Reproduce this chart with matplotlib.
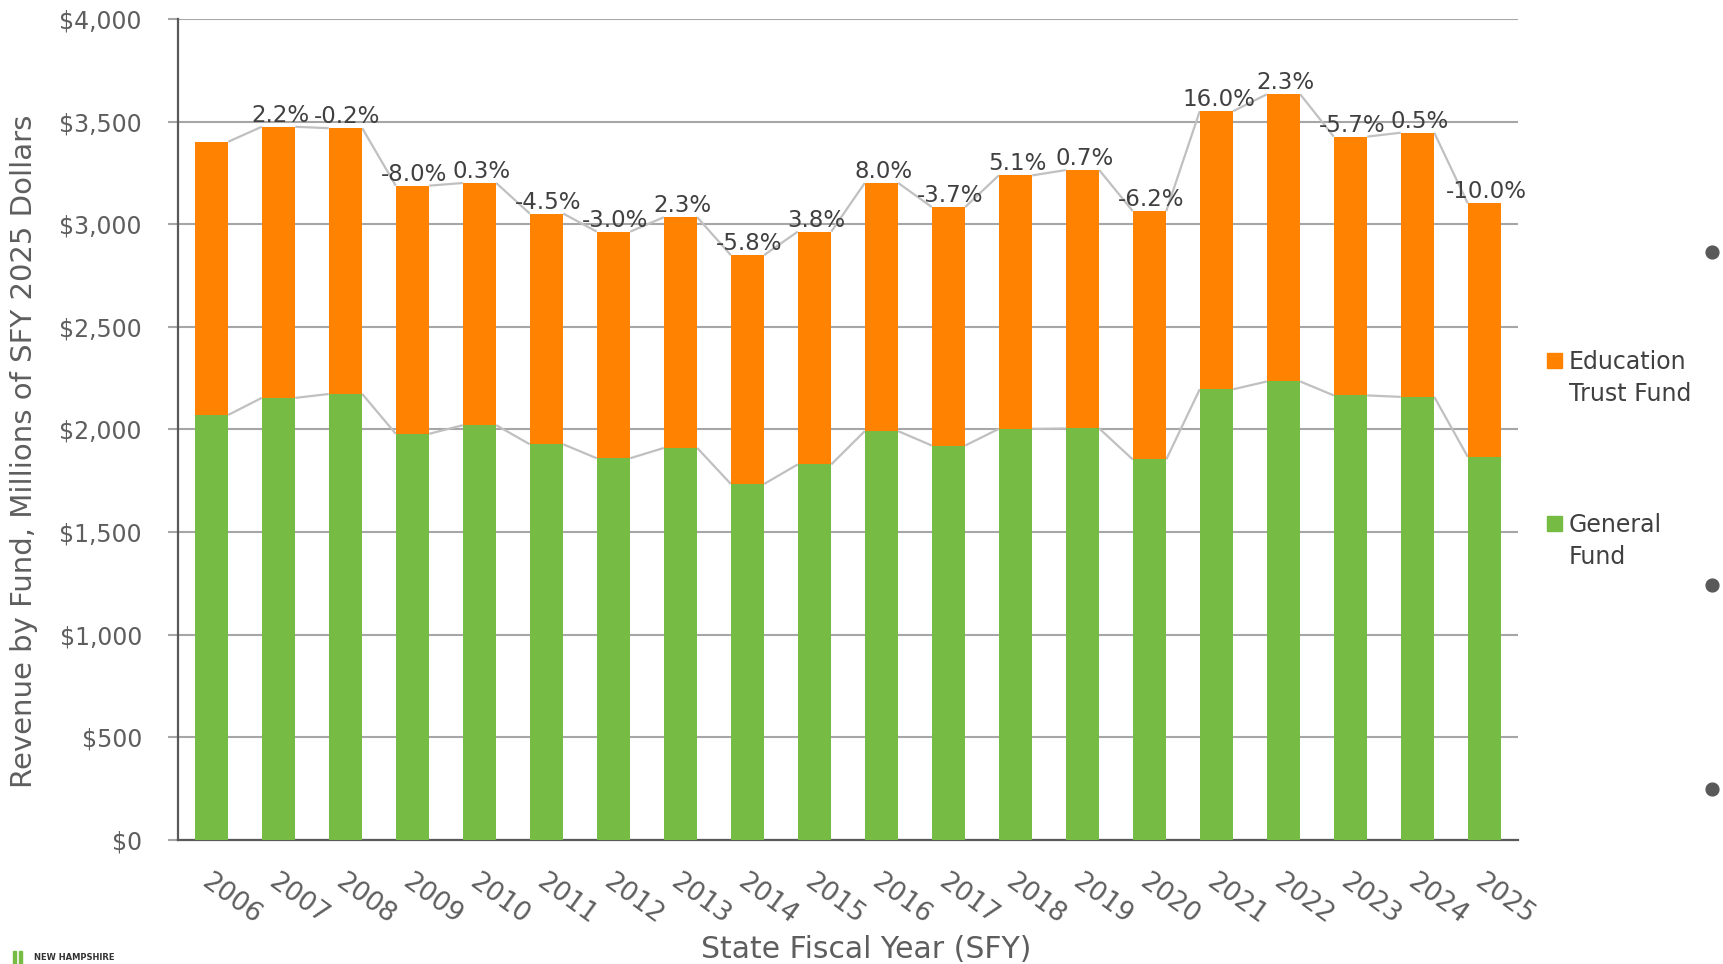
import numpy as np
import matplotlib
matplotlib.use('Agg')
import matplotlib.pyplot as plt
from matplotlib.patches import Rectangle
from matplotlib.ticker import FuncFormatter

plt.rcParams['font.family'] = ['DejaVu Sans']

# Revenue by fund, millions of SFY 2025 dollars
years = [str(y) for y in range(2006, 2026)]
general_fund = [2071, 2154, 2173, 1979, 2021, 1928, 1860, 1910, 1735, 1830,
                1992, 1922, 2003, 2005, 1854, 2196, 2234, 2166, 2159, 1867]
education_fund = [1331, 1321, 1295, 1209, 1180, 1124, 1104, 1124, 1115, 1134,
                  1209, 1162, 1235, 1259, 1210, 1355, 1399, 1261, 1287, 1235]
pct_change = ['', '2.2%', '-0.2%', '-8.0%', '0.3%', '-4.5%', '-3.0%', '2.3%',
              '-5.8%', '3.8%', '8.0%', '-3.7%', '5.1%', '0.7%', '-6.2%',
              '16.0%', '2.3%', '-5.7%', '0.5%', '-10.0%']
y_ticks = [0, 500, 1000, 1500, 2000, 2500, 3000, 3500, 4000]

ORANGE = '#FF8200'
GREEN = '#76BB43'
TEXT_DARK = '#404040'
TEXT_GRAY = '#5E5E5E'
LINE_GRAY = '#C0C0C0'

W, H = 1724, 964
fig = plt.figure(figsize=(W / 100, H / 100), dpi=100)
# axes box in pixels: x 178..1518, y 19..840
ax = fig.add_axes([178 / W, 1 - 840 / H, 1340 / W, 821 / H])

x = np.arange(len(years))
width = 0.5
general = np.array(general_fund)
total = general + np.array(education_fund)

ax.bar(x, general, width, color=GREEN, zorder=3)
ax.bar(x, education_fund, width, bottom=general, color=ORANGE, zorder=3)

# Series lines joining the bar edges (Excel style)
for i in range(len(x) - 1):
    for series in (general, total):
        ax.plot([x[i] + width / 2, x[i + 1] - width / 2],
                [series[i], series[i + 1]],
                color=LINE_GRAY, lw=1.6, zorder=2, solid_capstyle='butt')

# Year over year change labels
for i, label in enumerate(pct_change):
    if label:
        ax.annotate(label, (x[i], total[i]), xytext=(2, 5),
                    textcoords='offset pixels', ha='center', va='baseline',
                    fontsize=16.5, color=TEXT_DARK, zorder=4)

ax.set_xlim(-0.5, len(years) - 0.5)
ax.set_ylim(0, 4000)
ax.set_yticks(y_ticks)
ax.yaxis.set_major_formatter(FuncFormatter(lambda v, _: f'${v:,.0f}'))
ax.grid(axis='y', color='#A6A6A6', lw=1.5, zorder=0)
ax.set_axisbelow(True)

for side in ('top', 'right'):
    ax.spines[side].set_visible(False)
for side in ('left', 'bottom'):
    ax.spines[side].set_color('#595959')
    ax.spines[side].set_linewidth(1.6)

ax.tick_params(axis='y', length=7, width=1.5, color='#A6A6A6', pad=19,
               labelsize=17, labelcolor=TEXT_GRAY)
ax.tick_params(axis='x', length=0, pad=21)
ax.set_xticks(x)
ax.set_xticklabels(years, rotation=-36, ha='left', va='top',
                   rotation_mode='anchor', fontsize=19, color=TEXT_GRAY)

fig.text(24 / W, 1 - 451 / H, 'Revenue by Fund, Millions of SFY 2025 Dollars',
         rotation=90, ha='center', va='center', fontsize=21, color=TEXT_GRAY)
fig.text(866 / W, 1 - 949 / H, 'State Fiscal Year (SFY)',
         ha='center', va='center', fontsize=21.5, color=TEXT_GRAY)

# Legend, drawn by hand so the swatch sits on the first line
legend_items = [(['Education', 'Trust Fund'], ORANGE, 368),
                (['General', 'Fund'], GREEN, 531)]
for lines, color, base in legend_items:
    fig.patches.append(Rectangle((1547 / W, 1 - base / H), 15 / W, 15 / H,
                                 color=color, transform=fig.transFigure,
                                 figure=fig))
    for k, line in enumerate(lines):
        fig.text(1569 / W, 1 - (base + 1 + 32 * k) / H, line, ha='left',
                 va='baseline', fontsize=17, color=TEXT_DARK)

# Slide decorations: bullets on the right and the logo bottom left
overlay = fig.add_axes([0, 0, 1, 1], facecolor='none')
overlay.set_xlim(0, W)
overlay.set_ylim(H, 0)
overlay.axis('off')
overlay.scatter([1712, 1712, 1712], [252, 585, 789], s=85, color='#595959')
overlay.add_patch(Rectangle((13, 951), 3, 13, color=GREEN))
overlay.add_patch(Rectangle((19, 951), 3, 13, color=GREEN))
overlay.text(34, 958, 'NEW HAMPSHIRE', fontsize=6, fontweight='bold',
             color='#333333', va='center', ha='left')

fig.savefig('out.png', dpi=100, facecolor='white')
